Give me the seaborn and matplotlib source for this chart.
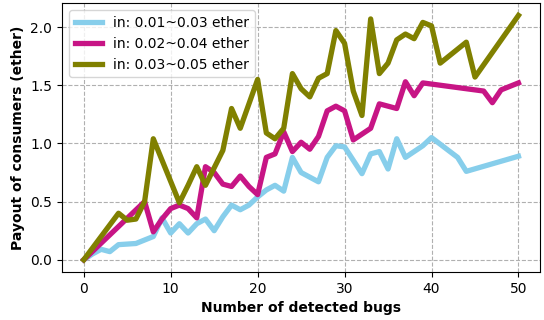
import numpy as np
import pandas as pd
import matplotlib
matplotlib.use("Agg")
import matplotlib.pyplot as plt
import seaborn as sns

labels = ["in: 0.01~0.03 ether", "in: 0.02~0.04 ether", "in: 0.03~0.05 ether"]
colors = ["skyblue", "mediumvioletred", "olive"]

x_low = [0, 1, 2, 3, 4, 6, 7, 8, 9, 10, 11, 12, 13, 14, 15, 16, 17, 18, 19, 20,
         21, 22, 23, 24, 25, 27, 28, 29, 30, 32, 33, 34, 35, 36, 37, 39, 40, 43, 44, 50]
y_low = [0.0, 0.05, 0.09, 0.07, 0.13, 0.14, 0.17, 0.20, 0.36, 0.23, 0.31, 0.23, 0.31, 0.35, 0.25, 0.37, 0.47, 0.43, 0.47, 0.54,
         0.60, 0.64, 0.59, 0.88, 0.75, 0.67, 0.88, 0.98, 0.97, 0.74, 0.91, 0.93, 0.78, 1.04, 0.88, 0.98, 1.05, 0.88, 0.76, 0.89]

x_mid = [0, 7, 8, 9, 10, 11, 12, 13, 14, 15, 16, 17, 18, 19, 20, 21, 22, 23, 24, 25,
         26, 27, 28, 29, 30, 31, 33, 34, 36, 37, 38, 39, 46, 47, 48, 50]
y_mid = [0.0, 0.50, 0.24, 0.35, 0.44, 0.47, 0.44, 0.36, 0.80, 0.75, 0.65, 0.63, 0.72, 0.63, 0.56, 0.88, 0.91, 1.10, 0.93, 1.01,
         0.95, 1.06, 1.28, 1.32, 1.28, 1.03, 1.13, 1.34, 1.30, 1.53, 1.41, 1.52, 1.45, 1.35, 1.46, 1.52]

x_high = [0, 4, 5, 6, 7, 8, 11, 12, 13, 14, 16, 17, 18, 20, 21, 22, 23, 24, 25, 26,
          27, 28, 29, 30, 31, 32, 33, 34, 35, 36, 37, 38, 39, 40, 41, 44, 45, 50]
y_high = [0.0, 0.40, 0.34, 0.35, 0.50, 1.04, 0.49, 0.64, 0.80, 0.64, 0.94, 1.30, 1.13, 1.55, 1.09, 1.04, 1.13, 1.60, 1.47, 1.40,
          1.56, 1.60, 1.97, 1.86, 1.45, 1.24, 2.07, 1.60, 1.69, 1.89, 1.94, 1.90, 2.04, 2.01, 1.69, 1.87, 1.57, 2.10]

frames = []
for lab, xs, ys in zip(labels, [x_low, x_mid, x_high], [y_low, y_mid, y_high]):
    frames.append(pd.DataFrame({"bugs": xs, "payout": ys, "range": lab}))
df = pd.concat(frames, ignore_index=True)

plt.rcParams["font.family"] = ["DejaVu Sans"]
fig, ax = plt.subplots(figsize=(5.44, 3.2), dpi=100)
fig.subplots_adjust(left=0.114, right=0.993, top=0.99, bottom=0.15)

sns.lineplot(data=df, x="bugs", y="payout", hue="range", hue_order=labels,
             palette=dict(zip(labels, colors)), linewidth=3.8, sort=False,
             estimator=None, ax=ax)

ax.grid(True, linestyle="--", color="#b0b0b0", linewidth=0.8)
ax.set_axisbelow(True)
ax.set_xticks([0, 10, 20, 30, 40, 50])
ax.set_yticks([0.0, 0.5, 1.0, 1.5, 2.0])
ax.set_yticklabels(["0.0", "0.5", "1.0", "1.5", "2.0"])
ax.set_xlabel("Number of detected bugs", fontweight="bold", fontsize=10)
ax.set_ylabel("Payout of consumers (ether)", fontweight="bold", fontsize=10)
ax.tick_params(labelsize=10)
leg = ax.legend(loc="upper left", fontsize=10, title=None)

fig.savefig("out.png", dpi=100)
